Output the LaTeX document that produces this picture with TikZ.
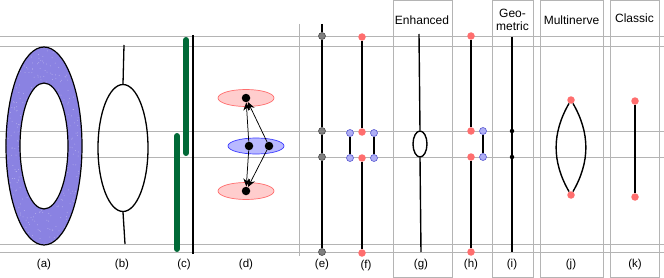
\documentclass[tikz,border=0pt]{standalone}
\usepackage{fontspec}
\setmainfont{Liberation Sans}
\usetikzlibrary{shapes.geometric,arrows.meta}
\definecolor{glc}{RGB}{180,180,180}
\definecolor{ringc}{RGB}{138,130,226}
\definecolor{dred}{RGB}{255,110,110}
\definecolor{lred}{RGB}{255,205,205}
\definecolor{sred}{RGB}{255,110,110}
\definecolor{dblue}{RGB}{175,175,245}
\definecolor{sblue}{RGB}{90,90,210}
\definecolor{lblue}{RGB}{185,185,255}
\definecolor{ablue}{RGB}{60,60,255}
\definecolor{gbar}{RGB}{0,105,55}
\begin{document}
\begin{tikzpicture}[x=1pt,y=-1pt,
  gl/.style={draw=glc,line width=0.9pt},
  boxc/.style={draw=glc,line width=1pt},
  lbl/.style={font=\fontsize{11.5}{13}\selectfont,inner sep=0pt},
  ttl/.style={font=\fontsize{12}{14}\selectfont,inner sep=0pt,align=center},
  wire/.style={draw=black,line width=1.4pt},
  thinw/.style={draw=black,line width=1.3pt},
  reddot/.style={circle,fill=dred,inner sep=0pt,minimum size=7.5pt},
  bluedot/.style={circle,fill=dblue,draw=sblue,line width=0.6pt,inner sep=0pt,minimum size=7pt},
  graydot/.style={circle,fill=gray,draw=black!70,line width=0.6pt,inner sep=0pt,minimum size=7pt},
  bdot/.style={circle,fill=black,inner sep=0pt,minimum size=8.5pt},
  sdot/.style={circle,fill=black,inner sep=0pt,minimum size=4.5pt},
  arr/.style={draw=black,line width=0.75pt,-{Stealth[length=8pt,width=7pt]}}]
\useasboundingbox (0,0) rectangle (664,278);
\fill[white] (0,0) rectangle (664,278);
% boxes
\draw[boxc] (393,1) rectangle (452,277);
\draw[boxc] (492,1) rectangle (533,277);
\draw[boxc] (540,1) rectangle (603,277);
\draw[boxc] (610,1) rectangle (659,277);
% gray guide lines
\foreach \yy in {36,46,131,157,244,252} {\draw[gl] (0,\yy) -- (664,\yy);}
\draw[gl] (299,24) -- (299,256);
% titles
\node[ttl] (tg) at (422,20) {Enhanced};
\node[ttl] (ti) at (512.5,20) {Geo-\\[-1pt]metric};
\node[ttl] (tj) at (571.5,20) {Multinerve};
\node[ttl] (tk) at (634.5,18) {Classic};
% (a)
\fill[ringc,even odd rule] (44,146) ellipse [x radius=38,y radius=99] (44,146) ellipse [x radius=24,y radius=63];
\begin{scope}[even odd rule]
\clip (44,146) ellipse [x radius=38,y radius=99] (44,146) ellipse [x radius=24,y radius=63];
\pgfmathsetseed{7}
\foreach \k in {1,...,500} {
  \fill[white,opacity=0.35] ({6+76*rnd},{47+198*rnd}) circle (0.5pt);
}
\end{scope}
\draw[line width=1.2pt] (44,146) ellipse [x radius=38,y radius=99];
\draw[line width=1.2pt] (44,146) ellipse [x radius=24,y radius=63];
% (b)
\node[ellipse,draw,line width=1.3pt,minimum width=50pt,minimum height=127pt,inner sep=0pt] (bE) at (123,148) {};
\coordinate (bT) at (124,45);
\coordinate (bB) at (125,244);
\draw[thinw] (bT) -- (bE.north);
\draw[thinw] (bE.south) -- (bB);
% (c)
\coordinate (c1a) at (186,40); \coordinate (c1b) at (186,153);
\coordinate (c2a) at (177,136); \coordinate (c2b) at (177,249);
\coordinate (c3a) at (193,35); \coordinate (c3b) at (193,254);
\draw[gbar,line width=6pt,line cap=round] (c1a) -- (c1b);
\draw[gbar,line width=6pt,line cap=round] (c2a) -- (c2b);
\draw[thinw] (c3a) -- (c3b);
% (d)
\draw[draw=sred,fill=lred,line width=0.7pt] (246,98) ellipse [x radius=28,y radius=8.5];
\draw[draw=ablue,fill=lblue,line width=0.7pt] (256,146) ellipse [x radius=28,y radius=8];
\draw[draw=sred,fill=lred,line width=0.7pt] (246,191) ellipse [x radius=28,y radius=8.5];
\node[bdot] (dT) at (246,98) {};
\node[bdot] (dM1) at (249,146) {};
\node[bdot] (dM2) at (269,146) {};
\node[bdot] (dB) at (246,191) {};
\draw[arr] (dM1) -- (dT);
\draw[arr] (dM2) -- (dT);
\draw[arr] (dM1) -- (dB);
\draw[arr] (dM2) -- (dB);
% (e)
\coordinate (eTop) at (322,24);
\node[graydot] (e1) at (322,36) {};
\node[graydot] (e2) at (322,131) {};
\node[graydot] (e3) at (322,157) {};
\node[graydot] (e4) at (322,252) {};
\draw[wire] (eTop) -- (e1) -- (e2) -- (e3) -- (e4);
% (f)
\node[reddot] (f1) at (362,37) {};
\node[reddot] (f2) at (362,132) {};
\node[reddot] (f3) at (362,158) {};
\node[reddot] (f4) at (362,253) {};
\draw[wire] (f1) -- (f2);
\draw[wire] (f3) -- (f4);
\node[bluedot] (fl1) at (350,133) {};
\node[bluedot] (fl2) at (350,158) {};
\node[bluedot] (fr1) at (374,133) {};
\node[bluedot] (fr2) at (374,158) {};
\draw[wire] (fl1) -- (fl2);
\draw[wire] (fr1) -- (fr2);
% (g)
\node[ellipse,draw,line width=1.4pt,minimum width=14pt,minimum height=26pt,inner sep=0pt] (gE) at (420,144) {};
\coordinate (gT) at (419,34);
\coordinate (gB) at (421,252);
\draw[wire] (gT) -- (gE.north);
\draw[wire] (gE.south) -- (gB);
% (h)
\node[reddot] (h1) at (471,36) {};
\node[reddot] (h2) at (471,131) {};
\node[reddot] (h3) at (471,157) {};
\node[reddot] (h4) at (471,252) {};
\draw[wire] (h1) -- (h2);
\draw[wire] (h3) -- (h4);
\node[bluedot] (hb1) at (483,131) {};
\node[bluedot] (hb2) at (483,157) {};
\draw[wire] (hb1) -- (hb2);
% (i)
\coordinate (iT) at (512,37);
\coordinate (iB) at (512,252);
\draw[wire] (iT) -- (iB);
\node[sdot] (i1) at (512,131) {};
\node[sdot] (i2) at (512,157) {};
% (j)
\node[reddot] (j1) at (571,100) {};
\node[reddot] (j2) at (571,195) {};
\draw[wire] (j1) to[bend right=30] (j2);
\draw[wire] (j1) to[bend left=30] (j2);
% (k)
\node[reddot] (k1) at (635,101) {};
\node[reddot] (k2) at (635,197) {};
\draw[wire] (k1) -- (k2);
% labels
\node[lbl] (la) at (44,265) {(a)};
\node[lbl] (lb) at (122,265) {(b)};
\node[lbl] (lc) at (184,265) {(c)};
\node[lbl] (ld) at (246,265) {(d)};
\node[lbl] (le) at (322,265) {(e)};
\node[lbl] (lf) at (366,266) {(f)};
\node[lbl] (lg) at (421,265) {(g)};
\node[lbl] (lh) at (471,265) {(h)};
\node[lbl] (li) at (512,265) {(i)};
\node[lbl] (lj) at (571,265) {(j)};
\node[lbl] (lk) at (635,265) {(k)};
\end{tikzpicture}
\end{document}
